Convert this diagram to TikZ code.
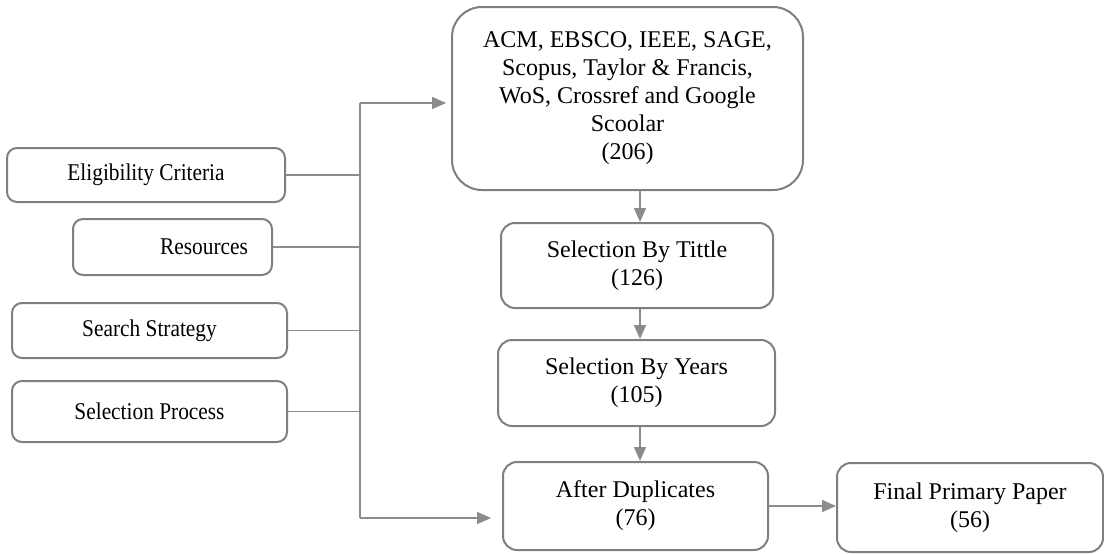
\documentclass[tikz,border=0pt]{standalone}
\usepackage{fontspec}
\setmainfont{Liberation Serif}
\usepackage{graphicx}
\usetikzlibrary{arrows.meta}
\definecolor{edgegray}{HTML}{7F7F7F}
\definecolor{conngray}{HTML}{8C8C8C}
\newcommand\cond[1]{\scalebox{0.89}[1]{#1}}
\begin{document}
\begin{tikzpicture}[x=1pt,y=-1pt,
  box/.style={draw=edgegray, line width=2pt, rounded corners=14pt, fill=white,
    inner sep=0pt, font=\fontsize{24}{28}\selectfont, align=center},
  side/.style={box, rounded corners=10pt},
  conn/.style={draw=conngray, line width=1.5pt},
  arr/.style={conn, -{Triangle[length=14pt,width=12pt]}}]
\useasboundingbox (0,0) rectangle (1104,554);
% left boxes
\node[side, minimum width=278pt, minimum height=54pt] (elig) at (146,175) {\cond{Eligibility Criteria}};
\node[side, minimum width=199pt, minimum height=56pt] (res) at (172.5,247) {\hspace*{63pt}\cond{Resources}};
\node[side, minimum width=275pt, minimum height=55pt] (search) at (149.5,330.5) {\cond{Search Strategy}};
\node[side, minimum width=275pt, minimum height=61pt] (selp) at (149.5,411.5) {\cond{Selection Process}};
% main column
\node[box, rounded corners=30pt, minimum width=351pt, minimum height=183pt] (top) at (627.5,98.5)
  {ACM, EBSCO, IEEE, SAGE,\\Scopus, Taylor \& Francis,\\WoS, Crossref and Google\\Scoolar\\(206)};
\node[box, minimum width=272pt, minimum height=85pt] (tit) at (637,265.5) {Selection By Tittle\\(126)};
\node[box, minimum width=277pt, minimum height=86pt] (yrs) at (636.5,383) {Selection By Years\\(105)};
\node[box, minimum width=265pt, minimum height=88pt] (dup) at (635.5,506) {After Duplicates\\(76)};
\node[box, minimum width=266pt, minimum height=89pt] (fin) at (970,507.5) {Final Primary Paper\\(56)};
% bus
\coordinate (bt) at (360,103);
\coordinate (bb) at (360,518);
\draw[conn] (bt) -- (bb);
\draw[conn] (elig.east) -- (elig.east -| bt);
\draw[conn] (res.east) -- (res.east -| bt);
\draw[conn] (search.east) -- (search.east -| bt);
\draw[conn] (selp.east) -- (selp.east -| bt);
\draw[arr, shorten >=5pt] (bt) -- (bt -| top.west);
\draw[arr, shorten >=11pt] (bb) -- (bb -| dup.west);
% column arrows
\coordinate (ax) at (640,0);
\draw[arr] (top.south -| ax) -- (tit.north -| ax);
\draw[arr] (tit.south -| ax) -- (yrs.north -| ax);
\draw[arr] (yrs.south -| ax) -- (dup.north -| ax);
\draw[arr] (dup.east) -- (dup.east -| fin.west);
\end{tikzpicture}
\end{document}
